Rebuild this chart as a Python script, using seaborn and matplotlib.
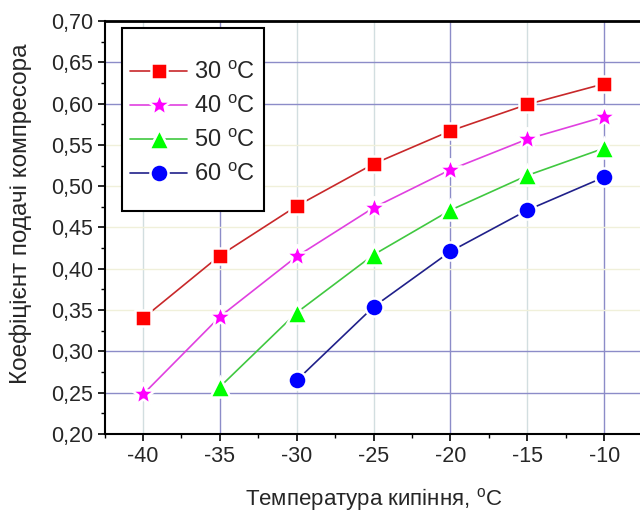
import numpy as np
import pandas as pd
import seaborn as sns
import matplotlib.pyplot as plt
from matplotlib.patches import Rectangle
from matplotlib.ticker import MultipleLocator, FuncFormatter

# Boiling temperature (x axis)
t_boil = [-40, -35, -30, -25, -20, -15, -10]

# Compressor delivery coefficient for each condensing temperature
lam_30 = [0.340, 0.416, 0.476, 0.527, 0.567, 0.599, 0.624]
lam_40 = [0.248, 0.342, 0.415, 0.474, 0.520, 0.557, 0.584]
lam_50 = [None, 0.257, 0.347, 0.417, 0.471, 0.513, 0.546]
lam_60 = [None, None, 0.265, 0.354, 0.421, 0.471, 0.511]

series_labels = ["30 $^\\mathregular{o}$C", "40 $^\\mathregular{o}$C",
                 "50 $^\\mathregular{o}$C", "60 $^\\mathregular{o}$C"]

df = pd.DataFrame({"t": t_boil, "s30": lam_30, "s40": lam_40,
                   "s50": lam_50, "s60": lam_60})

sns.set_style("white")
plt.rcParams["font.family"] = ["Liberation Sans", "DejaVu Sans"]
plt.rcParams["mathtext.default"] = "regular"

fig = plt.figure(figsize=(6.4, 5.17), dpi=100)
ax = fig.add_axes([104.6 / 640, 83 / 517, 538 / 640, 413 / 517])

# grid as in the original (mixed colours)
blue = "#8c8cc8"
for xv in [-35, -20, -10]:
    ax.axvline(xv, color=blue, lw=1.0, zorder=0)
for xv in [-40, -30, -25, -15]:
    ax.axvline(xv, color="#d2dee0", lw=1.0, zorder=0)
for yv in [0.25, 0.30, 0.60, 0.65]:
    ax.axhline(yv, color=blue, lw=1.0, zorder=0)
for yv in [0.35, 0.40, 0.45, 0.50, 0.55]:
    ax.axhline(yv, color="#f0f0da", lw=1.0, zorder=0)

styles = [
    ("s30", "#c8282a", "#ff0000", "s", 12),
    ("s40", "#e040e0", "#ff00ff", "*", 18),
    ("s50", "#40c840", "#00ff00", "^", 14),
    ("s60", "#20208a", "#0000ff", "o", 13),
]
for (col, lc, mc, mk, ms), lab in zip(styles, series_labels):
    d = df.dropna(subset=[col])
    sns.lineplot(data=d, x="t", y=col, ax=ax, color=lc, lw=1.2,
                 marker=mk, markersize=ms, markerfacecolor=mc,
                 markeredgecolor="white", markeredgewidth=1.8,
                 label=lab, zorder=3)

ax.set_xlim(-42.5, -7.5)
ax.set_ylim(0.2, 0.7)
ax.xaxis.set_major_locator(MultipleLocator(5))
ax.xaxis.set_minor_locator(MultipleLocator(2.5))
ax.yaxis.set_major_locator(MultipleLocator(0.05))
ax.yaxis.set_minor_locator(MultipleLocator(0.025))
ax.yaxis.set_major_formatter(FuncFormatter(lambda v, p: f"{v:.2f}".replace(".", ",")))
ax.xaxis.set_major_formatter(FuncFormatter(lambda v, p: f"{v:.0f}"))
ax.tick_params(which="major", direction="out", length=5, width=1.2,
               labelsize=15.5, color="black", bottom=True, left=True)
ax.tick_params(which="minor", direction="out", length=3, width=1.0,
               color="black", bottom=True, left=True)

for s in ["left", "bottom"]:
    ax.spines[s].set_color("black")
    ax.spines[s].set_linewidth(1.5)
ax.spines["top"].set_color("black")
ax.spines["top"].set_linewidth(2)
ax.spines["right"].set_visible(False)

ax.set_xlabel("Температура кипіння, $^\\mathregular{o}$C", fontsize=16, labelpad=14)
ax.set_ylabel("Коефіцієнт подачі компресора", fontsize=17.5)
ax.yaxis.set_label_coords(-0.135, 0.533)

# legend box
box = Rectangle((0.0323, 0.540), 0.264, 0.443, transform=ax.transAxes,
                facecolor="white", edgecolor="black", lw=1.5, zorder=4)
ax.add_patch(box)
handles, labels = ax.get_legend_handles_labels()
leg = ax.legend(handles, labels, loc="center", bbox_to_anchor=(0.164, 0.750),
                frameon=False, fontsize=17, handlelength=2.4, handletextpad=0.3,
                labelspacing=0.5, borderaxespad=0)
leg.set_zorder(5)

fig.savefig("out.png", dpi=100)
